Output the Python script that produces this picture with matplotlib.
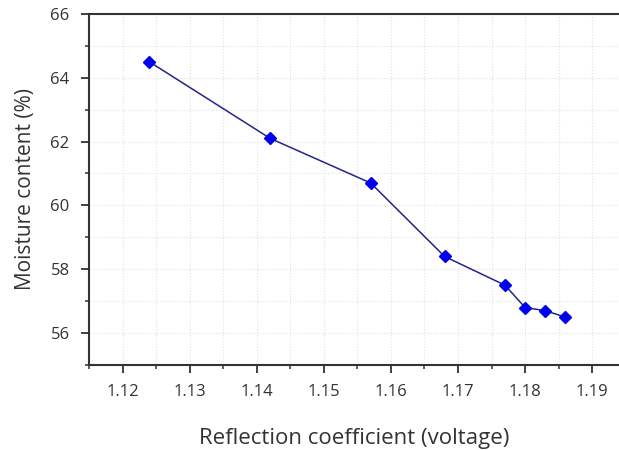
import matplotlib
matplotlib.use('Agg')
import matplotlib.pyplot as plt
from matplotlib.ticker import MultipleLocator

# valores
reflection = [1.124, 1.142, 1.157, 1.168, 1.177, 1.180, 1.183, 1.186]
moisture = [64.5, 62.1, 60.7, 58.4, 57.5, 56.8, 56.7, 56.5]

plt.rcParams['font.family'] = ['Open Sans', 'DejaVu Sans']

fig = plt.figure(figsize=(6.19, 4.5), dpi=100)
ax = fig.add_axes([0.1438, 0.189, 0.8562, 0.78])

ax.plot(reflection, moisture, color='#23238a', linewidth=1.1, zorder=3)
ax.plot(reflection, moisture, linestyle='none', marker='D', markersize=6.5,
        color='#0000ee', zorder=4)

ax.set_xlim(1.115, 1.194)
ax.set_ylim(55, 66)
ax.xaxis.set_major_locator(MultipleLocator(0.01))
ax.xaxis.set_minor_locator(MultipleLocator(0.005))
ax.yaxis.set_major_locator(MultipleLocator(2))
ax.yaxis.set_minor_locator(MultipleLocator(1))

ax.grid(True, which='both', linestyle=':', color='#e2e2e2', linewidth=0.8)
ax.set_axisbelow(True)

for side in ['left', 'bottom', 'top']:
    ax.spines[side].set_linewidth(1.5)
    ax.spines[side].set_color('#333333')
ax.spines['right'].set_visible(False)

ax.tick_params(which='major', direction='out', length=6, width=1.3,
               color='#333333', labelsize=12, labelcolor='#333333', pad=8)
ax.tick_params(which='minor', direction='out', length=3, width=1.1, color='#333333')

ax.set_xlabel('Reflection coefficient (voltage)', fontsize=16, color='#333333', labelpad=20)
ax.set_ylabel('Moisture content (%)', fontsize=15, color='#333333', labelpad=10)

plt.savefig('out.png', dpi=100)
plt.close()
